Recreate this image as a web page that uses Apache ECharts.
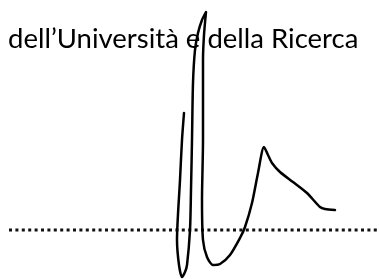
<!DOCTYPE html>
<html>
<head>
<meta charset="utf-8">
<script src="https://cdn.jsdelivr.net/npm/echarts@6/dist/echarts.min.js"></script>
<style>
  html, body { margin: 0; padding: 0; background: #fff; }
  #main { width: 379px; height: 279px; }
</style>
</head>
<body>
<div id="main"></div>
<script>
var headingText = 'dell\u2019Università e della Ricerca';

// signature stroke (x, y in page pixels, y downwards)
var strokeX = [184, 182, 180, 177, 179, 182, 185, 187, 190, 191, 192, 193, 195, 198, 202, 206, 204, 203, 203, 202, 203, 207, 213, 220, 230, 240, 245, 252, 258, 264, 268, 272, 280, 293, 307, 320, 325, 335];
var strokeY = [113, 140, 180, 240, 265, 277, 272, 265, 230, 190, 140, 83, 50, 33, 20, 12, 35, 60, 140, 200, 240, 257, 265, 264, 255, 238, 227, 203, 173, 147, 155, 163, 172, 182, 193, 207, 209, 210];

// dotted signature line
var lineX = [9, 379];
var lineY = [230, 230];

var dom = document.getElementById('main');
var myChart = echarts.init(dom);

var strokeData = strokeX.map(function (x, i) { return [x, strokeY[i]]; });
var lineData = lineX.map(function (x, i) { return [x, lineY[i]]; });

var option = {
    animation: false,
    title: {
        text: headingText,
        left: 3,
        top: 20,
        textStyle: {
            fontFamily: 'Lato',
            fontSize: 27.5,
            fontWeight: 'normal',
            color: '#000'
        }
    },
    grid: { left: 0, right: 0, top: 0, bottom: 0 },
    xAxis: { type: 'value', min: 0, max: 379, show: false },
    yAxis: { type: 'value', min: 0, max: 279, inverse: true, show: false },
    series: [
        {
            type: 'line',
            data: lineData,
            symbol: 'none',
            lineStyle: { color: '#111', width: 3, type: [3, 3.4] }
        },
        {
            type: 'line',
            data: strokeData,
            symbol: 'none',
            smooth: 0.25,
            lineStyle: { color: '#000', width: 2.5, cap: 'round', join: 'round' }
        }
    ]
};
myChart.setOption(option, true);
</script>
</body>
</html>
